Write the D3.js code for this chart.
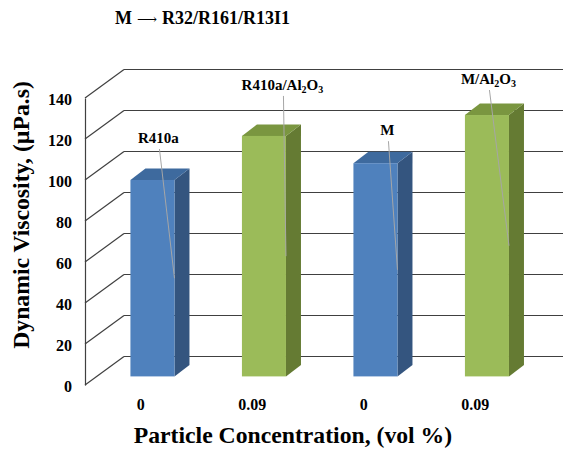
<!DOCTYPE html>
<html>
<head>
<meta charset="utf-8">
<script src="https://cdn.jsdelivr.net/npm/d3@7"></script>
<style>
  html, body { margin: 0; padding: 0; background: #fff; }
  svg text { font-family: "Liberation Serif", "Times New Roman", Times, "DejaVu Serif", serif; font-weight: bold; }
</style>
</head>
<body>
<svg id="chart" width="563" height="449"></svg>
<script>
// ---- data ----
const categories = ["0", "0.09", "0", "0.09"];
const seriesNames = ["R410a", "R410a/Al2O3", "M", "M/Al2O3"];
const seriesKind = ["base", "nano", "base", "nano"];
const values = [95.8, 117.3, 104.0, 127.5];
const yTicks = [0, 20, 40, 60, 80, 100, 120, 140];
const titleParts = ["M", "\u27F6", "R32/R161/R13I1"];
const xTitle = "Particle Concentration, (vol %)";
const yTitle = "Dynamic Viscosity, (\u00b5Pa.s)";

// ---- layout ----
const svg = d3.select("#chart");
const W = 563, H = 449;
const depth = { dx: 39, dy: -28.5 };      // wall depth (front plane -> back wall)
const barOff = { dx: 11.7, dy: -8.6 };    // front plane -> bar front face
const barDepth = { dx: 15, dy: -11.5 };   // bar thickness in depth
// manual label offsets (dx from bar centre, dy from bar top)
const labelOff = [[6, -37], [18.5, -46], [12, -28], [1.5, -31]];

const y = d3.scaleLinear().domain([0, 140]).range([385, 98]);
const x = d3.scaleBand().domain(d3.range(categories.length)).range([85, 531])
  .paddingInner(0.605).paddingOuter(0.3025);

const colors = {
  base: { front: "#4f81bd", top: "#3e6a9e", side: "#34557f" },
  nano: { front: "#9bbb59", top: "#7a9640", side: "#657b33" }
};
const gridColor = "#404040";

// back wall gridlines + diagonals
const grid = svg.append("g");
yTicks.forEach(t => {
  const fy = y(t);
  grid.append("line")
    .attr("x1", 85).attr("y1", fy)
    .attr("x2", 85 + depth.dx).attr("y2", fy + depth.dy)
    .attr("stroke", gridColor).attr("stroke-width", 1.2);
  grid.append("line")
    .attr("x1", 85 + depth.dx).attr("y1", fy + depth.dy)
    .attr("x2", W + 5).attr("y2", fy + depth.dy)
    .attr("stroke", gridColor).attr("stroke-width", 1.2);
});

// y axis (front vertical line + tick labels)
const yAxis = svg.append("g").attr("transform", "translate(85,0)")
  .call(d3.axisLeft(y).tickValues(yTicks).tickSizeInner(0).tickSizeOuter(0).tickPadding(13));
yAxis.select(".domain").attr("stroke", gridColor).attr("stroke-width", 1.2);
yAxis.selectAll("text")
  .attr("dy", "6.5px")
  .attr("font-size", 16).attr("fill", "#000");

// x axis category labels (front plane)
const xAxis = svg.append("g").attr("transform", "translate(0,385)")
  .call(d3.axisBottom(x).tickFormat(i => categories[i]).tickSizeInner(0).tickSizeOuter(0).tickPadding(0));
xAxis.select(".domain").remove();
xAxis.selectAll("text")
  .attr("y", 25).attr("dy", 0)
  .attr("font-size", 16).attr("fill", "#000");

// bars
const bars = svg.append("g");
values.forEach((v, i) => {
  const c = colors[seriesKind[i]];
  const x0 = x(i) + barOff.dx, x1 = x0 + x.bandwidth();
  const yb = y(0) + barOff.dy, yt = y(v) + barOff.dy;
  const g = bars.append("g");
  g.append("polygon")
    .attr("points", [[x1, yt], [x1 + barDepth.dx, yt + barDepth.dy], [x1 + barDepth.dx, yb + barDepth.dy], [x1, yb]].join(" "))
    .attr("fill", c.side);
  g.append("polygon")
    .attr("points", [[x0, yt], [x0 + barDepth.dx, yt + barDepth.dy], [x1 + barDepth.dx, yt + barDepth.dy], [x1, yt]].join(" "))
    .attr("fill", c.top);
  g.append("rect")
    .attr("x", x0).attr("y", yt).attr("width", x1 - x0).attr("height", yb - yt)
    .attr("fill", c.front);
});

// data labels with leader lines
const labels = svg.append("g");
values.forEach((v, i) => {
  const x0 = x(i) + barOff.dx, x1 = x0 + x.bandwidth();
  const yb = y(0) + barOff.dy, yt = y(v) + barOff.dy;
  const cx = (x0 + x1) / 2 + labelOff[i][0];
  const by = yt + labelOff[i][1];
  labels.append("line")
    .attr("x1", cx + 1).attr("y1", by + 6)
    .attr("x2", x1).attr("y2", (yt + yb) / 2)
    .attr("stroke", "#a6a6a6").attr("stroke-width", 1);
  const t = labels.append("text")
    .attr("x", cx).attr("y", by)
    .attr("text-anchor", "middle")
    .attr("font-size", 15).attr("fill", "#000");
  const name = seriesNames[i];
  const m = name.match(/^(.*)Al2O3$/);
  if (m) {
    t.append("tspan").text(m[1] + "Al");
    t.append("tspan").text("2").attr("font-size", 10).attr("dy", 3);
    t.append("tspan").text("O").attr("dy", -3);
    t.append("tspan").text("3").attr("font-size", 10).attr("dy", 3);
  } else {
    t.text(name);
  }
});

// titles
const title = svg.append("text").attr("x", 115).attr("y", 24)
  .attr("font-size", 18).attr("fill", "#000");
title.append("tspan").text(titleParts[0]);
title.append("tspan").attr("dx", 5).attr("font-size", 14).attr("font-weight", "normal").text(titleParts[1]);
title.append("tspan").attr("dx", 5).text(titleParts[2]);

svg.append("text").attr("x", 293).attr("y", 443)
  .attr("text-anchor", "middle").attr("font-size", 23.7).attr("fill", "#000").text(xTitle);
svg.append("text")
  .attr("transform", "translate(29,215) rotate(-90)")
  .attr("text-anchor", "middle").attr("font-size", 23.7).attr("fill", "#000").text(yTitle);
</script>
</body>
</html>
